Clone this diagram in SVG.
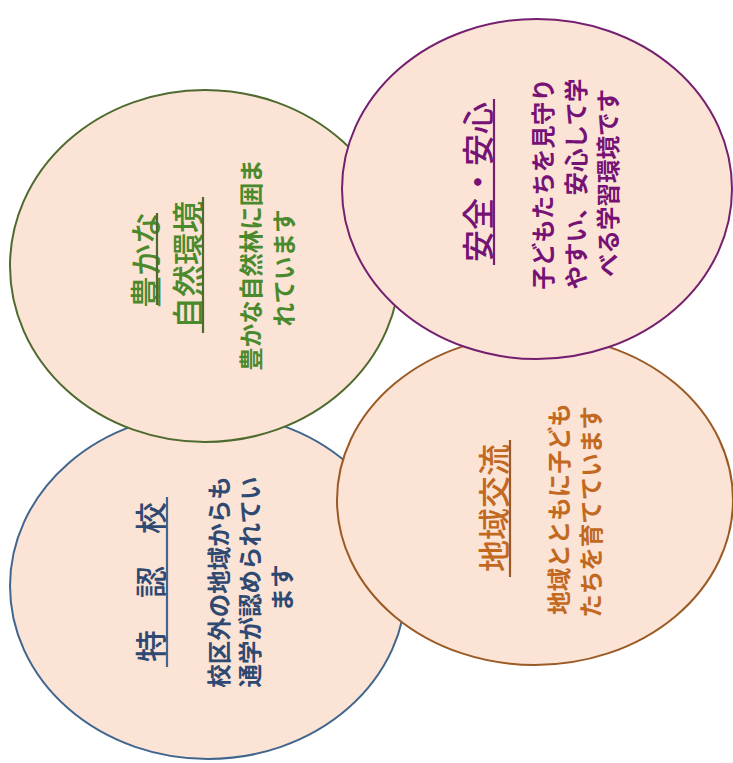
<svg xmlns="http://www.w3.org/2000/svg" width="733" height="763" viewBox="0 0 733 763">
<style>
.c{fill:#fbe3d5;stroke-width:2}
.t{font-family:"Noto Sans CJK JP","Noto Sans CJK SC",sans-serif;text-anchor:middle;dominant-baseline:central}
.h{font-size:32px;font-weight:500}
.b{font-size:23.5px;font-weight:700}
.u{stroke-width:2.2}
.g{fill:#4a8a2c}.gs{stroke:#4e6a2e}
.bl{fill:#2e4a72}.bls{stroke:#41668e}
.p{fill:#761275}.ps{stroke:#74206f}
.o{fill:#c2691f}.os{stroke:#9b5a23}
</style>
<rect width="733" height="763" fill="#ffffff"/>
<g id="connectors"/>
<g id="tokuninko">
<ellipse class="c bls" cx="208" cy="586" rx="198" ry="173"/>
<text class="t h bl" transform="translate(149,582) rotate(-90)">特　認　校</text>
<line class="u bls" x1="167" y1="497" x2="167" y2="667"/>
<text class="t b bl" transform="translate(218,582) rotate(-90)">校区外の地域からも</text>
<text class="t b bl" transform="translate(249,582) rotate(-90)">通学が認められてい</text>
<text class="t b bl" transform="translate(281,588) rotate(-90)">ます</text>
</g>
<g id="shizen">
<ellipse class="c gs" cx="205" cy="266" rx="195" ry="176"/>
<text class="t h g" transform="translate(144,260) rotate(-90)">豊かな</text>
<line class="u gs" x1="157" y1="213" x2="157" y2="305"/>
<text class="t h g" transform="translate(186,265) rotate(-90)">自然環境</text>
<line class="u gs" x1="203" y1="197" x2="203" y2="333"/>
<text class="t b g" transform="translate(250,265) rotate(-90)">豊かな自然林に囲ま</text>
<text class="t b g" transform="translate(283,268) rotate(-90)">れています</text>
</g>
<g id="chiiki">
<ellipse class="c os" cx="535" cy="500" rx="198" ry="165"/>
<text class="t h o" transform="translate(492,508) rotate(-90)">地域交流</text>
<line class="u os" x1="510" y1="440" x2="510" y2="577"/>
<text class="t b o" transform="translate(558,509) rotate(-90)">地域とともに子ども</text>
<text class="t b o" transform="translate(590,512) rotate(-90)">たちを育てています</text>
</g>
<g id="anzen">
<ellipse class="c ps" cx="537" cy="189" rx="195" ry="170"/>
<text class="t h p" transform="translate(476,182) rotate(-90)">安全・安心</text>
<line class="u ps" x1="494" y1="99" x2="494" y2="265"/>
<text class="t b p" transform="translate(542,184) rotate(-90)">子どもたちを見守り</text>
<text class="t b p" transform="translate(575,184) rotate(-90)">やすい、安心して学</text>
<text class="t b p" transform="translate(607,183) rotate(-90)">べる学習環境です</text>
</g>
</svg>
